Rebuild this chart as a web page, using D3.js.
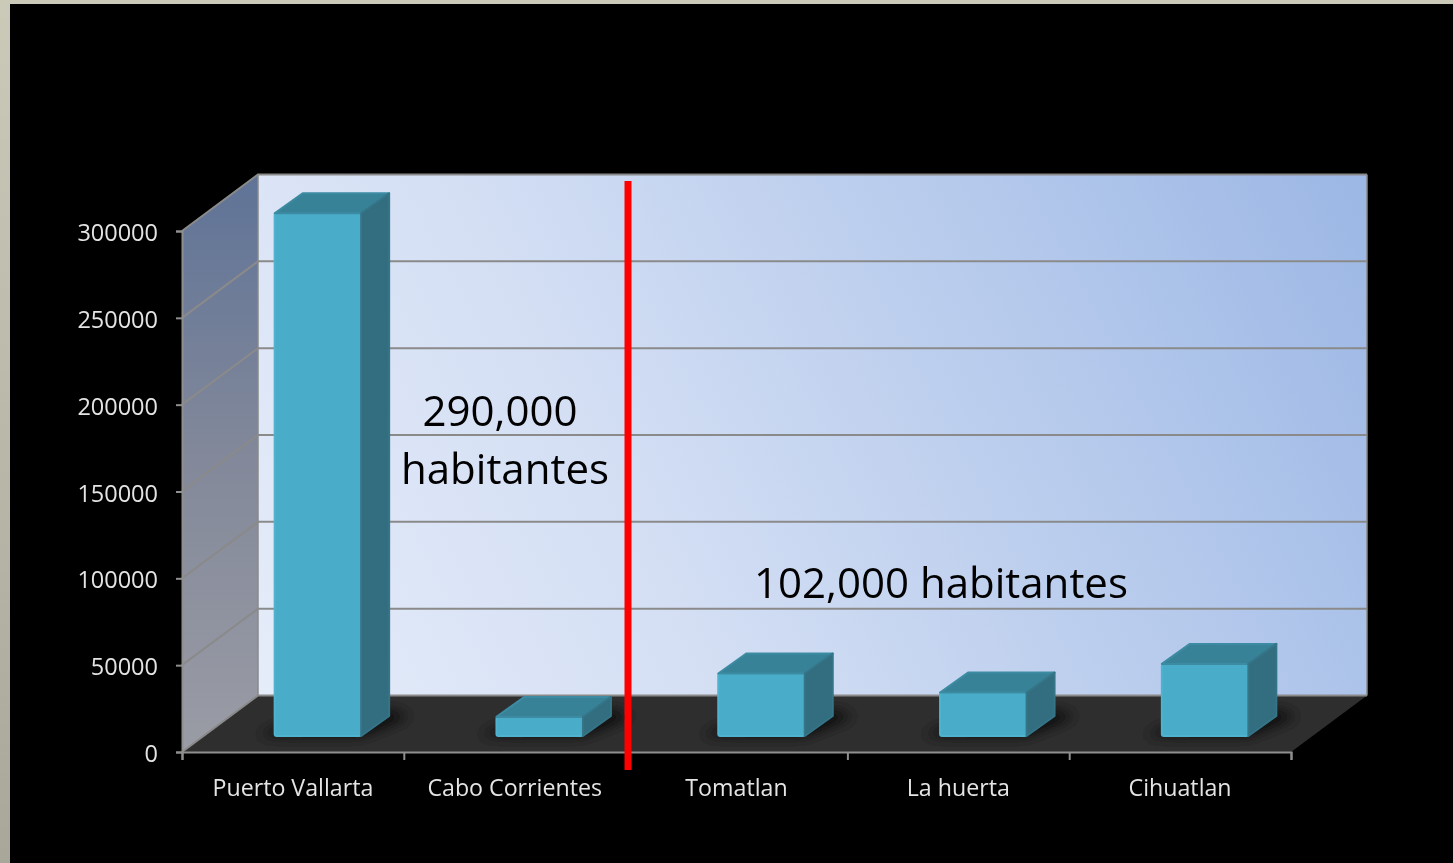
<!DOCTYPE html>
<html>
<head>
<meta charset="utf-8">
<script src="https://cdn.jsdelivr.net/npm/d3@7"></script>
<style>
html, body { margin: 0; padding: 0; background: #000; overflow: hidden; }
svg { display: block; }
text { font-family: "Open Sans", sans-serif; }
</style>
</head>
<body>
<div id="chart"></div>
<script>
const categories = ["Puerto Vallarta", "Cabo Corrientes", "Tomatlan", "La huerta", "Cihuatlan"];
const population = [301000, 11000, 36000, 25000, 41500];
const yTicks = [0, 50000, 100000, 150000, 200000, 250000, 300000];

const width = 1453, height = 863;
// front plane of the fake 3d box
const left = 182, right = 1291, bottom = 752, top300 = 231;
const depthX = 76, depthY = 56.5;     // floor depth
const barShiftX = 25, barShiftY = 16; // where the bars sit on the floor
const barDepthX = 28, barDepthY = 20;

const x = d3.scaleBand().domain(categories).range([left, right]).paddingInner(0.61).paddingOuter(0.305);
const y = d3.scaleLinear().domain([0, 300000]).range([bottom, top300]);

const svg = d3.select("#chart").append("svg")
    .attr("width", width)
    .attr("height", height);

const defs = svg.append("defs");

function addGradient(id, x1, y1, x2, y2, stops, userSpace) {
    const g = defs.append("linearGradient").attr("id", id)
        .attr("x1", x1).attr("y1", y1).attr("x2", x2).attr("y2", y2);
    if (userSpace) g.attr("gradientUnits", "userSpaceOnUse");
    stops.forEach(s => g.append("stop").attr("offset", s[0]).attr("stop-color", s[1]));
}
addGradient("wallBack", left + depthX, bottom, right + depthX, bottom - 521 - depthY, [
    [0, "#e6edfa"], [0.35, "#d4dff4"], [0.7, "#b6caec"], [1, "#9cb7e5"]
], true);
addGradient("wallSide", 0, 1, 0, 0, [[0, "#9a9ca5"], [0.5, "#83899a"], [1, "#5f7397"]]);
addGradient("pageBg", 0, 0, 0, 1, [[0, "#cbc9b8"], [1, "#a9a79a"]]);

defs.append("filter").attr("id", "soft")
    .attr("x", "-40%").attr("y", "-40%").attr("width", "180%").attr("height", "180%")
    .append("feGaussianBlur").attr("stdDeviation", 7);
// the reference is a scaled up screenshot, everything is a bit soft
defs.append("filter").attr("id", "scan")
    .attr("filterUnits", "userSpaceOnUse")
    .attr("x", 0).attr("y", 0).attr("width", width).attr("height", height)
    .append("feGaussianBlur").attr("stdDeviation", 0.6);

// page frame
svg.append("rect").attr("width", width).attr("height", height).attr("fill", "url(#pageBg)");
svg.append("rect").attr("x", 10).attr("y", 4).attr("width", width - 10).attr("height", height - 4).attr("fill", "#000");

const chart = svg.append("g").attr("filter", "url(#scan)");

const line = d3.line();
const backTop = y(300000) - depthY, backBottom = bottom - depthY;

// back wall, side wall, floor
chart.append("rect")
    .attr("x", left + depthX).attr("y", backTop)
    .attr("width", right - left).attr("height", backBottom - backTop)
    .attr("fill", "url(#wallBack)");
chart.append("path")
    .attr("d", line([[left, y(300000)], [left + depthX, backTop], [left + depthX, backBottom], [left, bottom]]) + "Z")
    .attr("fill", "url(#wallSide)");
chart.append("path")
    .attr("d", line([[left, bottom], [left + depthX, backBottom], [right + depthX, backBottom], [right, bottom]]) + "Z")
    .attr("fill", "#2f2f2f");

// gridlines
const grid = chart.append("g").attr("fill", "none").attr("stroke", "#8a8a8a").attr("stroke-width", 2);
yTicks.forEach(t => {
    grid.append("path").attr("d", line([[left, y(t)], [left + depthX, y(t) - depthY], [right + depthX, y(t) - depthY]]));
});
grid.append("path").attr("d", line([[left + depthX, backTop], [left + depthX, backBottom]])).attr("stroke-width", 1.5);
grid.append("path").attr("d", line([[right + depthX, backTop], [right + depthX, backBottom]])).attr("stroke-width", 1.5);

// axes
const axisColor = "#8f8f8f";
const yAxis = chart.append("g").attr("transform", `translate(${left},0)`)
    .call(d3.axisLeft(y).tickValues(yTicks).tickSize(6).tickPadding(18).tickFormat(d3.format("d")));
const xAxis = chart.append("g").attr("transform", `translate(0,${bottom})`)
    .call(d3.axisBottom(d3.scalePoint().domain(d3.range(6)).range([left, right])).tickSize(8).tickFormat(""));
[yAxis, xAxis].forEach(a => {
    a.selectAll("path").attr("stroke", axisColor).attr("stroke-width", 2);
    a.selectAll("line").attr("stroke", axisColor).attr("stroke-width", 2);
});
yAxis.selectAll("text")
    .attr("fill", "#e4e4e4")
    .attr("y", 2)
    .style("font-size", "23.5px")
    .style("font-family", '"Open Sans", sans-serif');

// category labels
chart.append("g").selectAll("text")
    .data(categories)
    .enter()
    .append("text")
    .attr("x", d => x(d) + x.bandwidth() / 2)
    .attr("y", 796)
    .attr("text-anchor", "middle")
    .attr("fill", "#e4e4e4")
    .style("font-size", "23.2px")
    .text(d => d);

// bars
const bars = chart.append("g").selectAll("g")
    .data(categories.map((c, i) => ({ name: c, value: population[i] })))
    .enter()
    .append("g")
    .attr("transform", `translate(${barShiftX},${-barShiftY})`);

// floor shadow behind each bar
bars.append("path")
    .attr("d", d => {
        const x0 = x(d.name), x1 = x0 + x.bandwidth();
        return line([[x0 - 18, bottom], [x1, bottom], [x1 + barDepthX + 22, bottom - barDepthY], [x1 + barDepthX, bottom - barDepthY - 6], [x0, bottom - 8]]) + "Z";
    })
    .attr("fill", "#000").attr("opacity", 0.8).attr("filter", "url(#soft)");
bars.append("rect")
    .attr("x", d => x(d.name))
    .attr("y", d => y(d.value))
    .attr("width", x.bandwidth())
    .attr("height", d => bottom - y(d.value))
    .attr("rx", 2)
    .attr("fill", "#48adc9").attr("stroke", "#4eb3cf").attr("stroke-width", 2).attr("stroke-linejoin", "round");
bars.append("path") // top
    .attr("d", d => {
        const x0 = x(d.name), x1 = x0 + x.bandwidth(), t = y(d.value);
        return line([[x0, t], [x0 + barDepthX, t - barDepthY], [x1 + barDepthX, t - barDepthY], [x1, t]]) + "Z";
    })
    .attr("fill", "#378298").attr("stroke", "#3c8ba2").attr("stroke-width", 2).attr("stroke-linejoin", "round");
bars.append("path") // side
    .attr("d", d => {
        const x1 = x(d.name) + x.bandwidth(), t = y(d.value);
        return line([[x1, t], [x1 + barDepthX, t - barDepthY], [x1 + barDepthX, bottom - barDepthY], [x1, bottom]]) + "Z";
    })
    .attr("fill", "#316d80").attr("stroke", "#357488").attr("stroke-width", 2).attr("stroke-linejoin", "round");

// annotations
chart.append("line")
    .attr("x1", 628).attr("x2", 628).attr("y1", 181).attr("y2", 770)
    .attr("stroke", "#ff0000").attr("stroke-width", 7);

const notes = [
    ["290,000", 500, 426],
    ["habitantes", 505, 484],
    ["102,000 habitantes", 941, 598]
];
chart.append("g").selectAll("text")
    .data(notes)
    .enter()
    .append("text")
    .attr("x", d => d[1])
    .attr("y", d => d[2])
    .attr("text-anchor", "middle")
    .attr("fill", "#000")
    .style("font-size", "42px")
    .text(d => d[0]);
</script>
</body>
</html>
